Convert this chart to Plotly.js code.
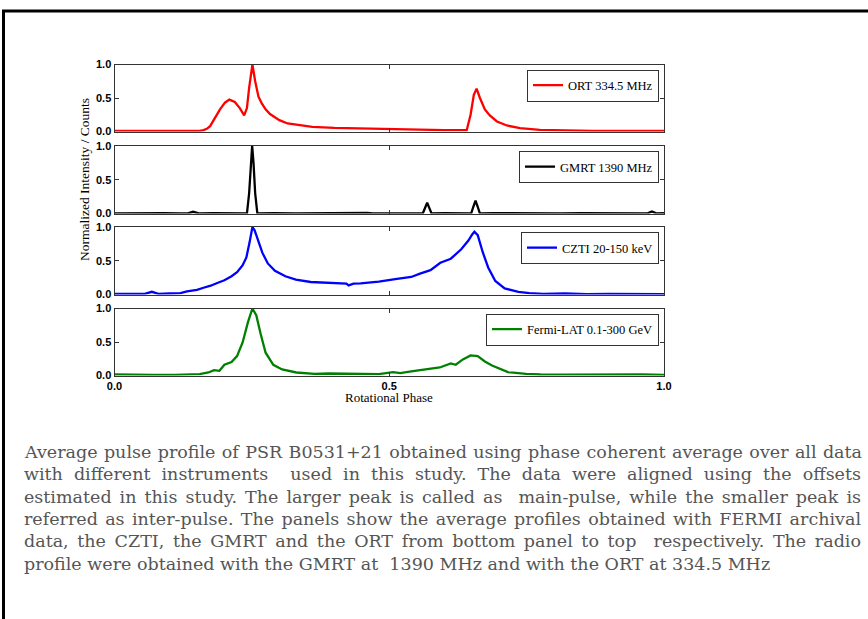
<!DOCTYPE html>
<html>
<head>
<meta charset="utf-8">
<script src="https://cdn.plot.ly/plotly-3.0.1.min.js"></script>
<style>
  html, body { margin: 0; padding: 0; background: #ffffff; }
  #chart { width: 868px; height: 619px; }
</style>
</head>
<body>
<div id="chart"></div>
<script>
// Rotational phase grid and normalized profile for each instrument
const ortPhase = [0.000, 0.040, 0.080, 0.120, 0.155, 0.162, 0.168, 0.174, 0.181, 0.192,
  0.201, 0.209, 0.219, 0.228, 0.236, 0.241, 0.245, 0.251, 0.256, 0.262,
  0.268, 0.275, 0.283, 0.300, 0.315, 0.330, 0.360, 0.400, 0.450, 0.500,
  0.550, 0.600, 0.641, 0.648, 0.654, 0.659, 0.665, 0.674, 0.683, 0.696,
  0.714, 0.738, 0.774, 0.820, 0.870, 0.920, 0.960, 1.000];
const ortVal = [0.010, 0.010, 0.005, 0.010, 0.010, 0.020, 0.040, 0.080, 0.180, 0.330,
  0.430, 0.475, 0.440, 0.350, 0.240, 0.350, 0.650, 1.000, 0.750, 0.520,
  0.420, 0.330, 0.260, 0.170, 0.120, 0.100, 0.070, 0.055, 0.045, 0.035,
  0.030, 0.020, 0.020, 0.250, 0.550, 0.640, 0.500, 0.330, 0.240, 0.150,
  0.090, 0.050, 0.025, 0.015, 0.010, 0.010, 0.005, 0.010];

const gmrtPhase = [0.000, 0.030, 0.060, 0.090, 0.120, 0.132, 0.143, 0.155, 0.180, 0.210,
  0.2410, 0.2450, 0.2480, 0.2505, 0.2530, 0.2560, 0.2600, 0.290, 0.330, 0.370,
  0.410, 0.450, 0.460, 0.470, 0.500, 0.530, 0.5610, 0.5650, 0.5690, 0.5730,
  0.5770, 0.600, 0.630, 0.6490, 0.6530, 0.6570, 0.6610, 0.6650, 0.690, 0.730,
  0.770, 0.810, 0.850, 0.890, 0.930, 0.969, 0.978, 0.987, 1.000];
const gmrtVal = [0.000, 0.005, 0.000, 0.005, 0.000, 0.000, 0.025, 0.000, 0.005, 0.000,
  0.000, 0.300, 0.750, 1.000, 0.750, 0.300, 0.000, 0.005, 0.000, 0.005,
  0.000, 0.005, 0.010, 0.000, 0.005, 0.000, 0.000, 0.080, 0.160, 0.080,
  0.000, 0.005, 0.000, 0.000, 0.100, 0.190, 0.100, 0.000, 0.005, 0.000,
  0.005, 0.000, 0.005, 0.000, 0.005, 0.000, 0.030, 0.000, 0.005];

const cztiPhase = [0.000, 0.030, 0.055, 0.068, 0.080, 0.100, 0.120, 0.132, 0.144, 0.150,
  0.162, 0.175, 0.187, 0.200, 0.213, 0.223, 0.233, 0.240, 0.246, 0.251,
  0.255, 0.259, 0.269, 0.279, 0.292, 0.311, 0.330, 0.357, 0.390, 0.422,
  0.426, 0.435, 0.448, 0.481, 0.514, 0.540, 0.556, 0.575, 0.593, 0.612,
  0.631, 0.644, 0.651, 0.655, 0.661, 0.670, 0.680, 0.693, 0.710, 0.735,
  0.755, 0.780, 0.820, 0.860, 0.900, 0.940, 0.970, 1.000];
const cztiVal = [0.010, 0.010, 0.010, 0.040, 0.010, 0.015, 0.020, 0.045, 0.060, 0.070,
  0.100, 0.130, 0.170, 0.210, 0.270, 0.330, 0.430, 0.550, 0.780, 1.000,
  0.950, 0.850, 0.620, 0.460, 0.350, 0.270, 0.220, 0.185, 0.170, 0.160,
  0.135, 0.160, 0.165, 0.190, 0.230, 0.260, 0.310, 0.360, 0.470, 0.530,
  0.670, 0.800, 0.890, 0.930, 0.880, 0.630, 0.400, 0.200, 0.090, 0.040,
  0.020, 0.010, 0.015, 0.005, 0.010, 0.005, 0.010, 0.005];

const fermiPhase = [0.000, 0.030, 0.070, 0.110, 0.140, 0.155, 0.171, 0.181, 0.191, 0.200,
  0.213, 0.223, 0.233, 0.243, 0.251, 0.258, 0.266, 0.275, 0.289, 0.305,
  0.331, 0.364, 0.390, 0.416, 0.448, 0.481, 0.507, 0.520, 0.540, 0.566,
  0.592, 0.612, 0.621, 0.634, 0.648, 0.661, 0.674, 0.687, 0.703, 0.716,
  0.749, 0.775, 0.820, 0.870, 0.920, 0.960, 1.000];
const fermiVal = [0.015, 0.010, 0.010, 0.010, 0.012, 0.020, 0.045, 0.080, 0.070, 0.160,
  0.200, 0.290, 0.490, 0.800, 1.000, 0.900, 0.620, 0.340, 0.160, 0.090,
  0.045, 0.025, 0.030, 0.025, 0.020, 0.020, 0.050, 0.035, 0.060, 0.090,
  0.120, 0.180, 0.160, 0.240, 0.300, 0.290, 0.210, 0.150, 0.090, 0.050,
  0.025, 0.015, 0.012, 0.015, 0.010, 0.015, 0.010];

const seriesNames = ['ORT 334.5 MHz', 'GMRT 1390 MHz', 'CZTI 20-150 keV', 'Fermi-LAT 0.1-300 GeV'];
const phaseTickVals = [0, 0.5, 1];
const phaseTickText = ['0.0', '0.5', '1.0'];
const intensityTickVals = [0, 0.5, 1];
const intensityTickText = ['0.0', '0.5', '1.0'];
const xTitle = 'Rotational Phase';
const yTitle = 'Normalized Intensity / Counts';

const captionLines = [
  'Average pulse profile of PSR B0531+21 obtained using phase coherent average over all data',
  'with different instruments  used in this study. The data were aligned using the offsets',
  'estimated in this study. The larger peak is called as  main-pulse, while the smaller peak is',
  'referred as inter-pulse. The panels show the average profiles obtained with FERMI archival',
  'data, the CZTI, the GMRT and the ORT from bottom panel to top  respectively. The radio',
  'profile were obtained with the GMRT at  1390 MHz and with the ORT at 334.5 MHz'
];

// ---- page geometry (pixels) ----
const W = 868, H = 619;
const px = v => v / W;
const py = v => 1 - v / H;
const plotLeft = 114.5, plotRight = 664;
const panelTops = [64.5, 146, 227, 308.5];
const panelBottoms = [131.5, 213.5, 294.5, 375.5];
const lineColors = ['#ff0000', '#000000', '#0000ff', '#008000'];
const xs = [ortPhase, gmrtPhase, cztiPhase, fermiPhase];
const ys = [ortVal, gmrtVal, cztiVal, fermiVal];

const frameColor = '#333333';
const tickFont = { family: 'Liberation Sans, Arial, sans-serif', size: 11, color: '#000', weight: 'bold' };
const serifFont = { family: 'Liberation Serif, Times New Roman, serif', size: 13, color: '#000' };
const legendFont = { family: 'Liberation Serif, Times New Roman, serif', size: 12.5, color: '#000' };

const data = [];
const layout = {
  width: W, height: H,
  margin: { l: 0, r: 0, t: 0, b: 0 },
  paper_bgcolor: '#ffffff',
  plot_bgcolor: '#ffffff',
  showlegend: true,
  annotations: [],
  shapes: []
};

for (let i = 0; i < 4; i++) {
  const n = i + 1;
  const xKey = n === 1 ? 'xaxis' : 'xaxis' + n;
  const yKey = n === 1 ? 'yaxis' : 'yaxis' + n;
  const legKey = n === 1 ? 'legend' : 'legend' + n;
  data.push({
    type: 'scatter', mode: 'lines',
    x: xs[i], y: ys[i],
    xaxis: n === 1 ? 'x' : 'x' + n,
    yaxis: n === 1 ? 'y' : 'y' + n,
    name: seriesNames[i],
    legend: legKey,
    line: { color: lineColors[i], width: 2.3 },
    hoverinfo: 'skip'
  });
  const common = {
    showline: true, mirror: 'ticks', linecolor: frameColor, linewidth: 1,
    ticks: 'inside', ticklen: 4, tickwidth: 1, tickcolor: frameColor,
    showgrid: false, zeroline: false, fixedrange: true, tickfont: tickFont
  };
  layout[xKey] = Object.assign({}, common, {
    domain: [px(plotLeft), px(plotRight)],
    range: [0, 1],
    anchor: n === 1 ? 'y' : 'y' + n,
    tickvals: phaseTickVals, ticktext: phaseTickText,
    showticklabels: i === 3
  });
  layout[yKey] = Object.assign({}, common, {
    domain: [py(panelBottoms[i]), py(panelTops[i])],
    range: [0, 1],
    anchor: n === 1 ? 'x' : 'x' + n,
    tickvals: intensityTickVals, ticktext: intensityTickText
  });
  layout[legKey] = {
    x: px(659), y: py(panelTops[i] + 5),
    xanchor: 'right', yanchor: 'top',
    bgcolor: '#ffffff', bordercolor: frameColor, borderwidth: 1,
    font: legendFont, itemwidth: 30
  };
}

// axis titles
layout.annotations.push({
  xref: 'paper', yref: 'paper', x: px(389), y: py(397),
  text: xTitle, showarrow: false, font: serifFont,
  xanchor: 'center', yanchor: 'middle'
});
layout.annotations.push({
  xref: 'paper', yref: 'paper', x: px(85), y: py(180),
  text: yTitle, showarrow: false, font: { family: serifFont.family, size: 13.5, color: '#000' },
  textangle: -90, xanchor: 'center', yanchor: 'middle'
});

// caption block
const captionLeft = 22, captionWidth = 837, captionTop = 452, captionStep = 22.3;
const captionStart = layout.annotations.length;
captionLines.forEach((line, i) => {
  layout.annotations.push({
    xref: 'paper', yref: 'paper', x: px(captionLeft), y: py(captionTop + i * captionStep),
    text: line, showarrow: false, align: 'left',
    xanchor: 'left', yanchor: 'middle',
    font: { family: 'DejaVu Serif, serif', size: 17.5, color: '#555555' }
  });
});

// outer frame (left and top edges)
layout.shapes.push({
  type: 'line', xref: 'paper', yref: 'paper',
  x0: px(3.5), x1: px(3.5), y0: 0, y1: py(11),
  line: { color: '#000000', width: 3 }
});
layout.shapes.push({
  type: 'line', xref: 'paper', yref: 'paper',
  x0: px(2), x1: 1, y0: py(11), y1: py(11),
  line: { color: '#000000', width: 3 }
});

Plotly.newPlot('chart', data, layout, { staticPlot: true, displayModeBar: false }).then(gd => {
  // justify all caption lines except the last one
  for (let i = 0; i < captionLines.length - 1; i++) {
    const g = gd.querySelector('.annotation[data-index="' + (captionStart + i) + '"]');
    if (!g) continue;
    const t = g.querySelector('text.annotation-text');
    if (!t) continue;
    const before = t.getBoundingClientRect().left;
    const spaces = (t.textContent.match(/ /g) || []).length;
    const w = t.getComputedTextLength();
    if (spaces > 0) t.style.wordSpacing = ((captionWidth - w) / spaces) + 'px';
    const after = t.getBoundingClientRect().left;
    if (Math.abs(after - before) > 0.5) t.setAttribute('transform', 'translate(' + (before - after) + ',0)');
  }
});
</script>
</body>
</html>
